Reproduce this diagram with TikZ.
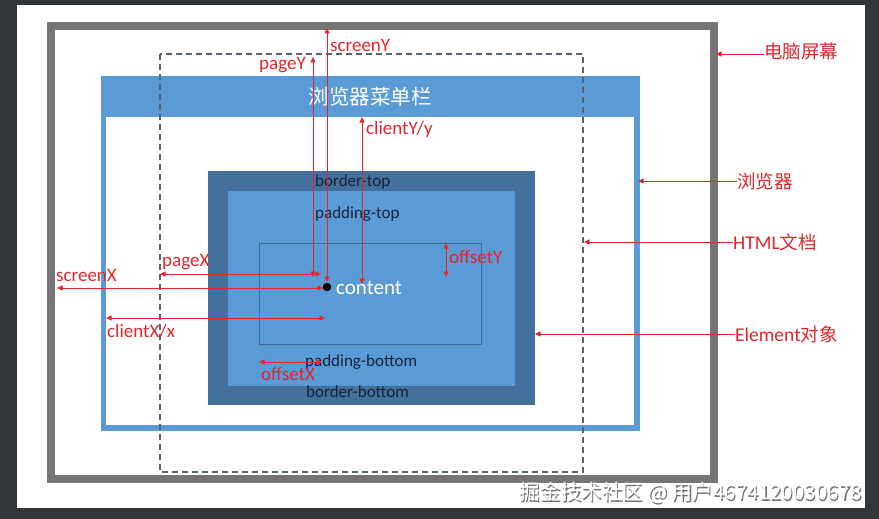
\documentclass[tikz,border=0pt]{standalone}
\usepackage{fontspec}
\setmainfont{Carlito}
\newfontfamily\cjk{Noto Sans CJK SC}
\usetikzlibrary{arrows.meta}
\definecolor{bgdark}{HTML}{323639}
\definecolor{framegray}{HTML}{767474}
\definecolor{brblue}{HTML}{5B9BD5}
\definecolor{elblue}{HTML}{44709D}
\definecolor{cntline}{HTML}{3D6C9A}
\definecolor{dashgray}{HTML}{56626E}
\definecolor{myred}{HTML}{E2262C}
\definecolor{navy}{HTML}{15243A}
\begin{document}
\begin{tikzpicture}[x=1pt,y=-1pt,
  redarr/.style={draw=myred, line width=0.8pt, {Triangle[length=5.5pt,width=5pt]}-{Triangle[length=5.5pt,width=5pt]}},
  onearr/.style={draw=myred, line width=0.8pt, -{Triangle[length=5.5pt,width=5pt]}},
  redlbl/.style={text=myred, inner sep=0pt, font=\fontsize{19}{21}\selectfont},
  boxlbl/.style={text=navy, inner sep=0pt, font=\fontsize{17}{19}\selectfont},
  sidelbl/.style={text=myred, inner sep=0pt, font=\fontsize{19.5}{21}\selectfont}]
\fill[bgdark] (0,0) rectangle (879,519);
\useasboundingbox (0,0) rectangle (879,519);
\fill[white] (17,5) rectangle (865,508);
% monitor frame
\draw[framegray, line width=8pt] (51,26) rectangle (714,479);
% browser
\fill[brblue] (101,76) rectangle (640,431);
\fill[white] (106,117) rectangle (634,425);
\node[text=white, inner sep=0pt, font=\cjk\fontsize{20.5}{22}\selectfont] (menu) at (370,97) {浏览器菜单栏};
% html document
\draw[dashgray, line width=1.1pt, dash pattern=on 6pt off 4pt] (160,54) rectangle (583,472);
% element
\fill[elblue] (208,171) rectangle (535,405);
\fill[brblue] (228,191) rectangle (515,386);
\draw[cntline, line width=0.6pt] (259,243) rectangle (481,344);
\node[boxlbl, anchor=west] (bt) at (315,182) {border-top};
\node[boxlbl, anchor=west] (pt) at (315,214) {padding-top};
\node[boxlbl, anchor=west] (pb) at (305,362) {padding-bottom};
\node[boxlbl, anchor=west] (bb) at (306,392) {border-bottom};
% content point
\fill[black] (327,287) circle (4.2pt);
\node[text=white, inner sep=0pt, anchor=west, font=\fontsize{21}{23}\selectfont] (cnt) at (336,288) {content};
% coordinates
\coordinate (sYt) at (327,28);  \coordinate (sYb) at (327,282);
\coordinate (pYt) at (313,57);  \coordinate (pYb) at (313,277);
\coordinate (cYt) at (362,117); \coordinate (cYb) at (362,284);
\coordinate (pXl) at (160,274); \coordinate (pXr) at (321,274);
\coordinate (sXl) at (57,288);  \coordinate (sXr) at (323,288);
\coordinate (cXl) at (106,318); \coordinate (cXr) at (325,318);
\coordinate (oXl) at (259,362); \coordinate (oXr) at (322,362);
\coordinate (oYt) at (446,243); \coordinate (oYb) at (446,277);
\draw[redarr] (sYb) -- (sYt);
\draw[redarr] (pYb) -- (pYt);
\draw[redarr] (cYb) -- (cYt);
\draw[redarr] (pXl) -- (pXr);
\draw[redarr] (sXl) -- (sXr);
\draw[redarr] (cXl) -- (cXr);
\draw[redarr] (oXl) -- (oXr);
\draw[redarr] (oYt) -- (oYb);
\node[redlbl, anchor=west] (lsY) at (330,45) {screenY};
\node[redlbl, anchor=east] (lpY) at (306,65) {pageY};
\node[redlbl, anchor=west] (lcY) at (366,129) {clientY/y};
\node[redlbl, anchor=west] (lpX) at (162,262) {pageX};
\node[redlbl, anchor=west] (lsX) at (56,275) {screenX};
\node[redlbl, anchor=west] (lcX) at (107,331) {clientX/x};
\node[redlbl, anchor=west] (loX) at (261,374) {offsetX};
\node[redlbl, anchor=west] (loY) at (449,257) {offsetY};
% side labels
\node[sidelbl, anchor=west, font=\cjk\fontsize{18.5}{20}\selectfont] (l1) at (764,52) {电脑屏幕};
\node[sidelbl, anchor=west, font=\cjk\fontsize{18.5}{20}\selectfont] (l2) at (737,181) {浏览器};
\node[sidelbl, anchor=west] (l3) at (733,242) {HTML{\cjk\fontsize{18.5}{20}\selectfont 文档}};
\node[sidelbl, anchor=west] (l4) at (735,334) {Element{\cjk\fontsize{18.5}{20}\selectfont 对象}};
\coordinate (t1) at (716,54);
\coordinate (t2) at (638,181);
\coordinate (t3) at (584,242);
\coordinate (t4) at (535,334);
\draw[onearr] (l1.west |- t1) -- (t1);
\draw[onearr] (l2.west |- t2) -- (t2);
\draw[onearr] (l3.west |- t3) -- (t3);
\draw[onearr] (l4.west |- t4) -- (t4);
% watermark
\node[text=black!55, inner sep=0pt, anchor=east, font=\cjk\fontsize{20.6}{22}\selectfont] (wms) at (863.2,494.2) {掘金技术社区 @ 用户4674120030678};
\node[text=white, inner sep=0pt, anchor=east, font=\cjk\fontsize{20.6}{22}\selectfont] (wm) at (862,493) {掘金技术社区 @ 用户4674120030678};
\end{tikzpicture}
\end{document}
